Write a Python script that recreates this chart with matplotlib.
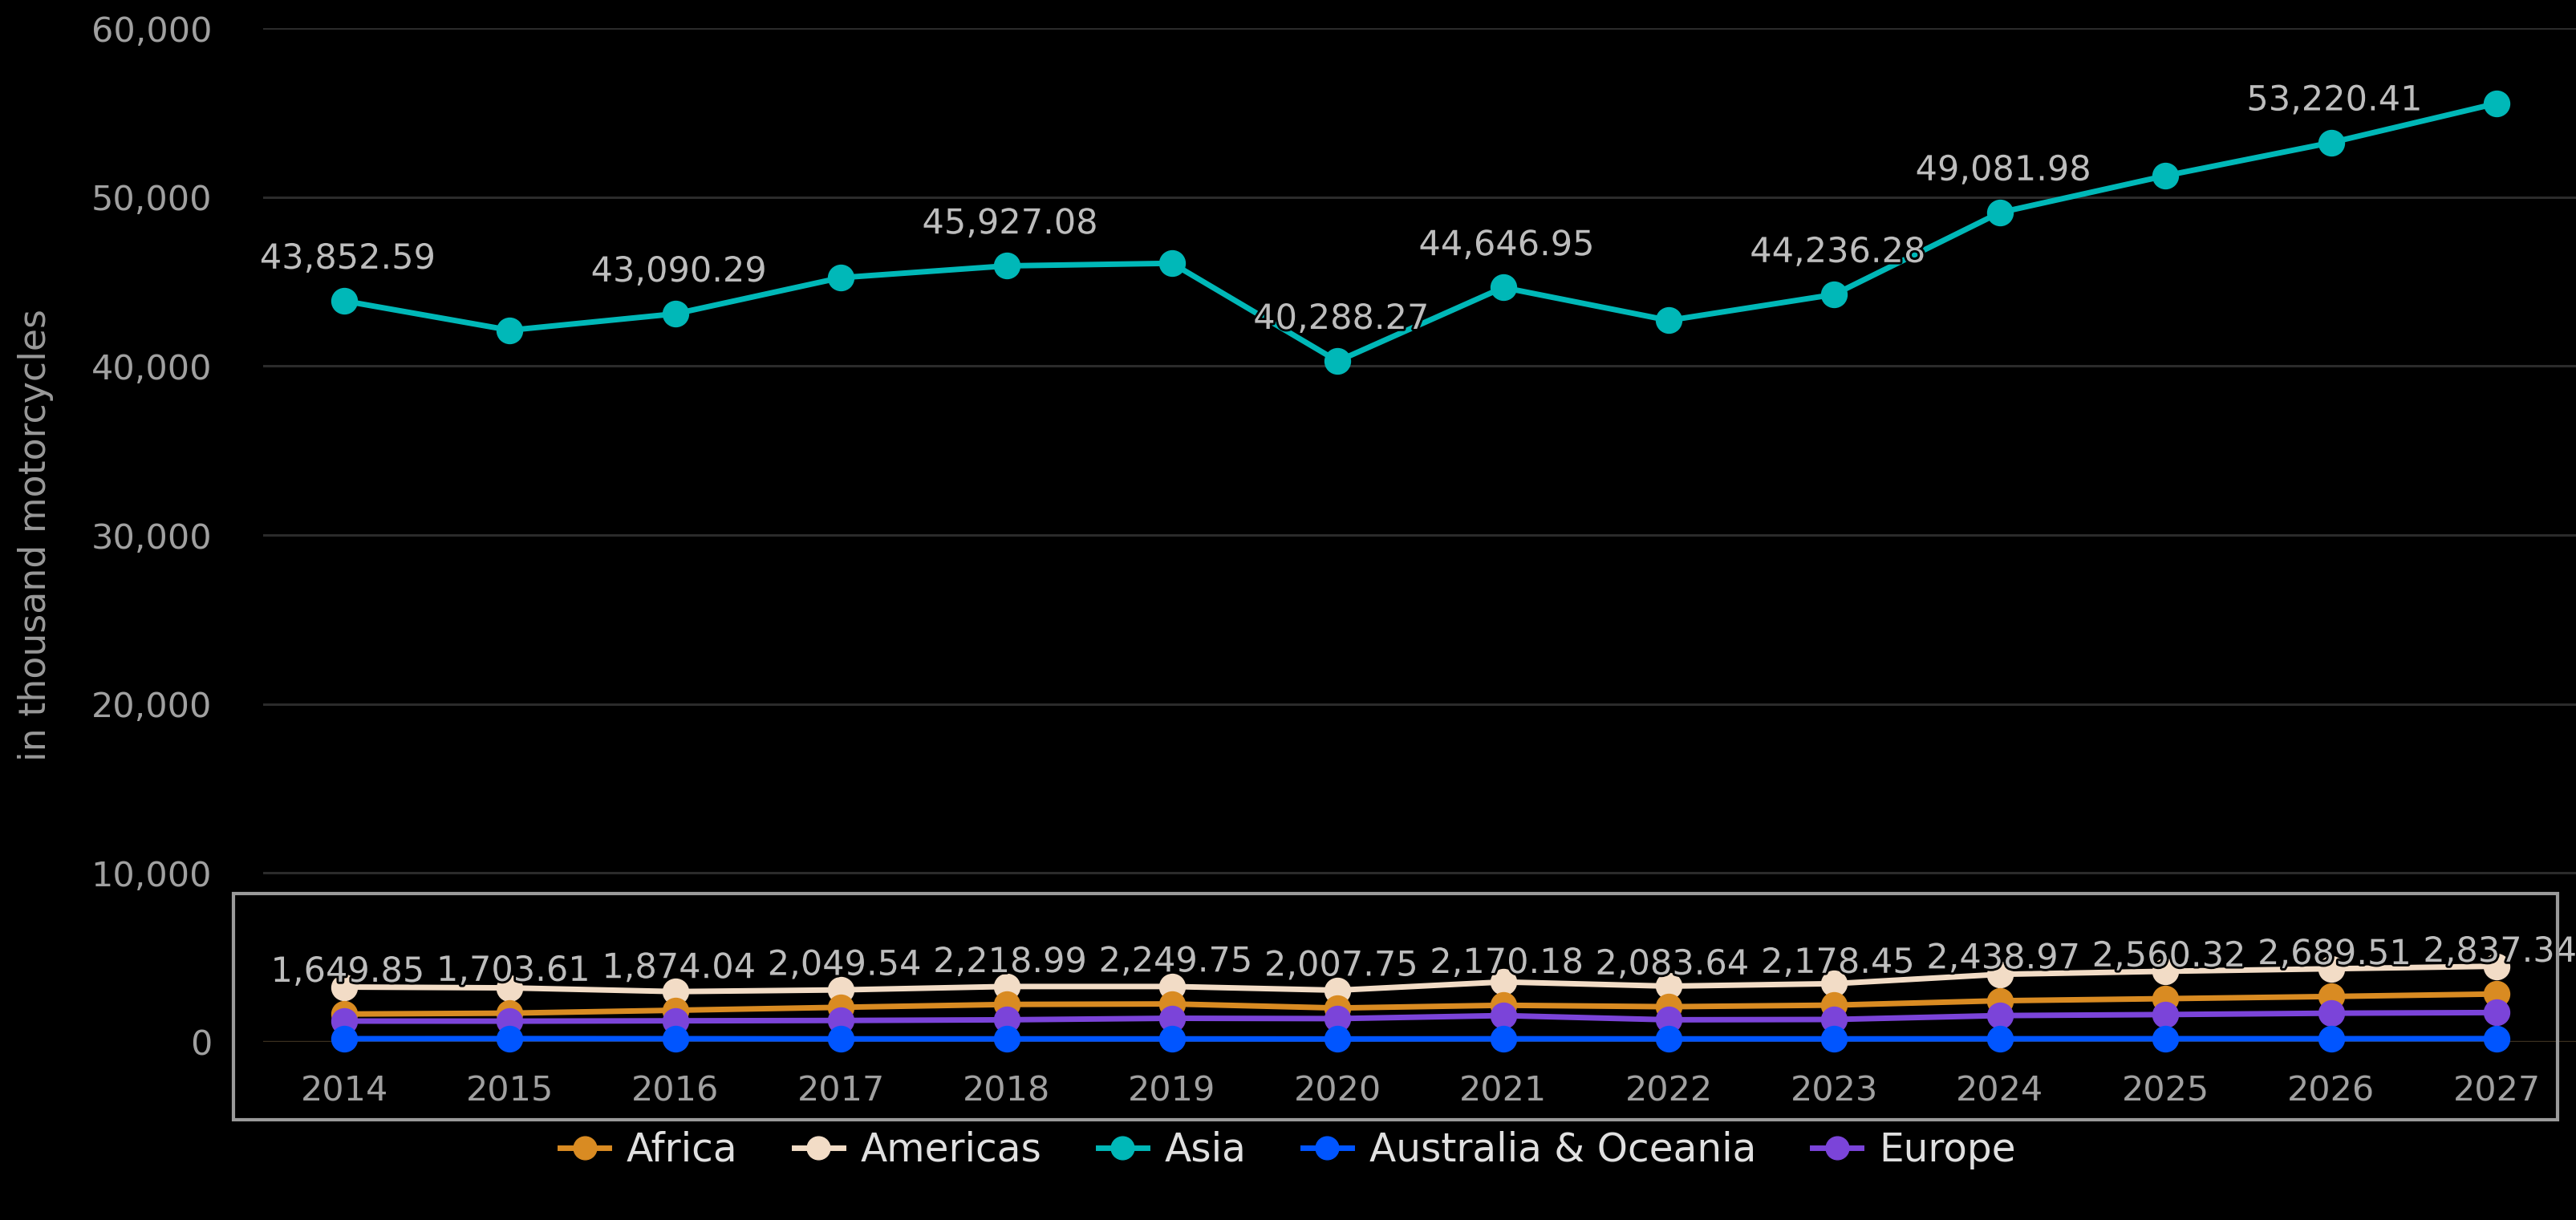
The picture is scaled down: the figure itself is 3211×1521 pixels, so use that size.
import matplotlib
matplotlib.use("Agg")
import matplotlib.pyplot as plt
import matplotlib.patheffects as pe
from matplotlib.patches import Rectangle
import numpy as np

years = list(range(2014, 2028))
africa = [1649.85, 1703.61, 1874.04, 2049.54, 2218.99, 2249.75, 2007.75,
          2170.18, 2083.64, 2178.45, 2438.97, 2560.32, 2689.51, 2837.34]
americas = [3250, 3200, 2980, 3080, 3280, 3280, 3060, 3550, 3300, 3450,
            4000, 4180, 4330, 4480]
asia = [43852.59, 42120, 43090.29, 45230, 45927.08, 46080, 40288.27,
        44646.95, 42700, 44236.28, 49081.98, 51260, 53220.41, 55540]
australia = [190, 195, 190, 180, 180, 180, 175, 185, 180, 180, 185, 190, 190, 195]
europe = [1235, 1230, 1250, 1270, 1310, 1400, 1380, 1560, 1310, 1330,
          1560, 1620, 1700, 1740]

# which points get a value label (the others were hidden in the original)
asia_labelled = [2014, 2016, 2018, 2020, 2021, 2023, 2024, 2026]

series = [
    ("Africa", africa, "#D98B22"),
    ("Americas", americas, "#F2DCC6"),
    ("Asia", asia, "#00B8B8"),
    ("Australia & Oceania", australia, "#0055FF"),
    ("Europe", europe, "#7B44D9"),
]

plt.rcParams['font.family'] = ['DejaVu Sans']

fig = plt.figure(figsize=(32.11, 15.21), dpi=100, facecolor="black")
ax = fig.add_axes([328 / 3211, 1 - 1299 / 1521, 1 - 328 / 3211, (1299 - 35) / 1521])
ax.set_facecolor("black")

ax.set_xlim(2013.51, 2027.48)
ax.set_ylim(0, 60000)
ax.set_yticks(np.arange(0, 60001, 10000))
ax.set_yticklabels([f"{v:,}" for v in range(0, 60001, 10000)])
ax.set_xticks(years)
ax.tick_params(axis="both", length=0, labelsize=31, colors="#a0a0a0")
ax.tick_params(axis="y", pad=46)
ax.tick_params(axis="x", pad=29)
for s in ax.spines.values():
    s.set_visible(False)
ax.grid(axis="y", color="#2b2b2b", linewidth=2.2)
ax.set_axisbelow(True)
ax.axhline(0, color="#3a2f1f", linewidth=2.5, zorder=1)

draw_order = ["Americas", "Africa", "Europe", "Australia & Oceania", "Asia"]
handles = {}
for name, vals, col in series:
    z = 3 + draw_order.index(name) * 0.1
    ln, = ax.plot(years, vals, color=col, linewidth=5, marker="o",
                  markersize=23, clip_on=False, zorder=z, label=name)
    handles[name] = ln

outline = [pe.withStroke(linewidth=4, foreground="black")]
for yr, v in zip(years, asia):
    if yr in asia_labelled:
        ax.annotate(f"{v:,.2f}", (yr, v), xytext=(3, 29), textcoords="offset points",
                    ha="center", va="baseline", fontsize=31, color="#bdbdbd",
                    path_effects=outline, zorder=10, annotation_clip=False)
for yr, v in zip(years, africa):
    ax.annotate(f"{v:,.2f}", (yr, v), xytext=(3, 29), textcoords="offset points",
                ha="center", va="baseline", fontsize=31, color="#bdbdbd",
                path_effects=outline, zorder=10, annotation_clip=False)

# grey frame around the lower series
ax.add_patch(Rectangle((2013.33, -4600), 2027.37 - 2013.33, 8785 + 4600,
                       fill=False, edgecolor="#9a9a9a", linewidth=3,
                       clip_on=False, zorder=11))

fig.text(45 / 3211, 1 - 667 / 1521, "in thousand motorcycles", rotation=90,
         ha="center", va="center", fontsize=33, color="#999999")

leg = fig.legend([handles[n] for n, _, _ in series], [n for n, _, _ in series],
                 loc="center", bbox_to_anchor=(0.5, 1 - 1434 / 1521), ncol=5,
                 frameon=False, fontsize=35, handlelength=1.25, handletextpad=0.45,
                 columnspacing=1.45, markerscale=0.9)
for t in leg.get_texts():
    t.set_color("#e0e0e0")

fig.savefig("out.png", dpi=100, facecolor="black")
